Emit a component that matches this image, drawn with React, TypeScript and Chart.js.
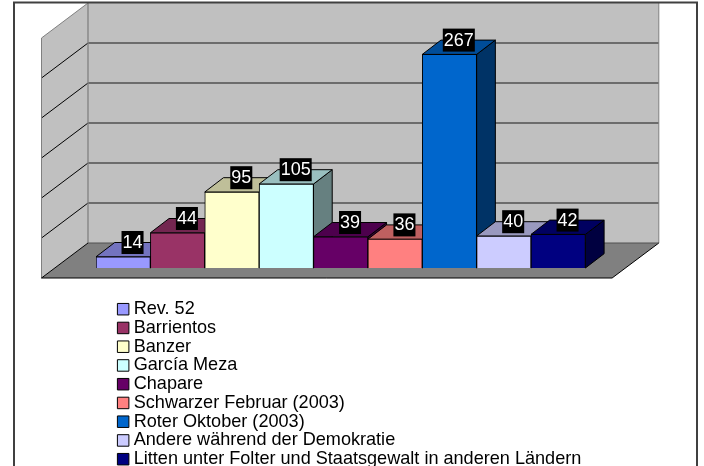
import React, { useEffect, useRef } from "react";
import { Chart, registerables } from "chart.js";

Chart.register(...registerables);

const categories = [
  "Rev. 52",
  "Barrientos",
  "Banzer",
  "García Meza",
  "Chapare",
  "Schwarzer Februar (2003)",
  "Roter Oktober (2003)",
  "Andere während der Demokratie",
  "Litten unter Folter und Staatsgewalt in anderen Ländern",
];
const values = [14, 44, 95, 105, 39, 36, 267, 40, 42];
const frontColors = ["#9999FF", "#993366", "#FFFFCC", "#CCFFFF", "#660066", "#FF8080", "#0066CC", "#CCCCFF", "#000080"];
const topColors = ["#7373BF", "#732650", "#BFBF99", "#99BFBF", "#4D004D", "#BF6060", "#004D99", "#9999BF", "#000060"];
const sideColors = ["#4D4D80", "#4D1A33", "#808066", "#668080", "#330033", "#804040", "#003366", "#666680", "#000040"];
const yMax = 300;
const yStep = 50;

const FONT = '"Liberation Sans", Arial, sans-serif';
const DEPTH_X = 18.7;
const DEPTH_Y = 14.3;

function poly(ctx: CanvasRenderingContext2D, pts: number[][], fill: string | null, stroke: string | null, lw = 1) {
  ctx.beginPath();
  pts.forEach((p, i) => (i ? ctx.lineTo(p[0], p[1]) : ctx.moveTo(p[0], p[1])));
  ctx.closePath();
  if (fill) {
    ctx.fillStyle = fill;
    ctx.fill();
  }
  if (stroke) {
    ctx.strokeStyle = stroke;
    ctx.lineWidth = lw;
    ctx.stroke();
  }
}

function line(ctx: CanvasRenderingContext2D, a: number[], b: number[], color: string, lw = 1) {
  ctx.beginPath();
  ctx.moveTo(a[0], a[1]);
  ctx.lineTo(b[0], b[1]);
  ctx.strokeStyle = color;
  ctx.lineWidth = lw;
  ctx.stroke();
}

const frame3d = {
  id: "frame3d",
  beforeDraw(chart: any) {
    const { ctx } = chart;
    ctx.save();
    ctx.fillStyle = "#FFFFFF";
    ctx.fillRect(0, 0, 704, 466);
    ctx.restore();
    const lg = chart.legend;
    if (lg) {
      lg.left = 121;
      lg.right = 700;
      lg.top = 299.5;
      lg.bottom = 490;
      lg.width = 579;
      lg.height = 190;
      // the swatches sit left of the legend's own origin, so no clip to its box
      lg.draw = function () {
        this._draw();
      };
    }
  },
  beforeDatasetsDraw(chart: any) {
    const { ctx, chartArea, scales } = chart;
    const y = scales.y;
    ctx.save();
    const base = y.getPixelForValue(0);
    const backL = chartArea.left - 8;
    const backR = chartArea.right + 73.4;
    const frontL = chartArea.left - 54.5;
    const frontR = chartArea.right + 26.7;
    const backBase = base - 25;
    const backTop = y.getPixelForValue(yMax) - 25;
    const dy = 35;

    // walls
    poly(ctx, [[backL, backTop], [backR, backTop], [backR, backBase], [backL, backBase]], "#C0C0C0", null);
    poly(ctx, [[frontL, backTop + dy], [backL, backTop], [backL, backBase], [frontL, backBase + dy]], "#C0C0C0", null);
    // floor
    poly(ctx, [[frontL, backBase + dy], [backL, backBase], [backR, backBase], [frontR, backBase + dy]], "#808080", null);

    // gridlines
    y.ticks.forEach((t: any) => {
      if (t.value === 0 || t.value === yMax) return;
      const py = y.getPixelForValue(t.value) - 25;
      line(ctx, [backL, py], [backR, py], "#505050", 1.3);
      line(ctx, [frontL, py + dy], [backL, py], "#000000", 1);
    });

    // wall and floor edges
    line(ctx, [backL, backTop], [backL, backBase], "#808080", 1.3);
    line(ctx, [backR, backTop], [backR, backBase], "#808080", 1);
    line(ctx, [frontL, backTop + dy], [frontL, backBase + dy], "#808080", 1);
    line(ctx, [frontL, backTop + dy], [backL, backTop], "#808080", 1);
    line(ctx, [frontL, backBase + dy], [backL, backBase], "#000000", 1);
    line(ctx, [backR, backBase], [frontR, backBase + dy], "#000000", 1);
    line(ctx, [frontL, backBase + dy], [frontR, backBase + dy], "#000000", 1);
    line(ctx, [backL, backBase], [backR, backBase], "#505050", 1);

    // chart frame
    ctx.strokeStyle = "#404040";
    ctx.lineWidth = 2;
    ctx.strokeRect(14, 2.5, 683, 480);

    // bar depth faces, left to right
    const meta = chart.getDatasetMeta(0);
    meta.data.forEach((bar: any, i: number) => {
      const { x, y: top, base: b, width } = bar.getProps(["x", "y", "base", "width"]);
      const l = x - width / 2;
      const r = x + width / 2;
      poly(ctx, [[r, top], [r + DEPTH_X, top - DEPTH_Y], [r + DEPTH_X, b - DEPTH_Y], [r, b]], sideColors[i], "#000000", 1);
      poly(ctx, [[l, top], [r, top], [r + DEPTH_X, top - DEPTH_Y], [l + DEPTH_X, top - DEPTH_Y]], topColors[i], "#000000", 1);
    });
    ctx.restore();
  },
  afterDatasetsDraw(chart: any) {
    const { ctx } = chart;
    const meta = chart.getDatasetMeta(0);
    ctx.save();
    ctx.font = `18px ${FONT}`;
    ctx.textAlign = "center";
    ctx.textBaseline = "middle";
    meta.data.forEach((bar: any, i: number) => {
      const { x, y: top } = bar.getProps(["x", "y"]);
      const cx = x + DEPTH_X / 2;
      const cy = top - DEPTH_Y;
      const text = String(values[i]);
      const w = ctx.measureText(text).width + 2;
      ctx.fillStyle = "#000000";
      ctx.fillRect(cx - w / 2, cy - 11.5, w, 23);
      ctx.fillStyle = "#FFFFFF";
      ctx.fillText(text, cx, cy + 0.5);
    });
    ctx.restore();
  },
};

export default function App() {
  const ref = useRef<HTMLCanvasElement | null>(null);
  useEffect(() => {
    if (!ref.current) return;
    const chart = new Chart(ref.current, {
      type: "bar",
      data: {
        labels: categories,
        datasets: [
          {
            label: "Opfer",
            data: values,
            backgroundColor: frontColors,
            borderColor: "#000000",
            borderWidth: 1,
            barPercentage: 1,
            categoryPercentage: 1,
          },
        ],
      },
      options: {
        responsive: false,
        animation: false,
        layout: { padding: { left: 96, right: 118.6, top: 28, bottom: 198 } },
        scales: {
          x: { grid: { display: false, drawTicks: false }, border: { display: false }, ticks: { display: false } },
          y: {
            min: 0,
            max: yMax,
            grid: { display: false, drawTicks: false },
            border: { display: false },
            ticks: { display: false, stepSize: yStep },
          },
        },
        plugins: {
          tooltip: { enabled: false },
          title: { display: false },
          legend: {
            position: "chartArea" as any,
            align: "start",
            labels: {
              color: "#000000",
              font: { family: FONT, size: 18.1 },
              usePointStyle: true,
              boxWidth: 3,
              boxHeight: 11.5,
              padding: 0.65,
              generateLabels: () =>
                categories.map((text, i) => ({
                  text,
                  fillStyle: frontColors[i],
                  strokeStyle: "#000000",
                  lineWidth: 1,
                  pointStyle: "rect",
                  hidden: false,
                  index: i,
                  datasetIndex: 0,
                })),
            },
          },
        },
      },
      plugins: [frame3d],
    });
    return () => chart.destroy();
  }, []);
  return (
    <div style={{ position: "absolute", left: 0, top: 0, width: 704, height: 466, overflow: "hidden", background: "#fff" }}>
      <canvas ref={ref} width={704} height={466} style={{ display: "block" }} />
    </div>
  );
}
